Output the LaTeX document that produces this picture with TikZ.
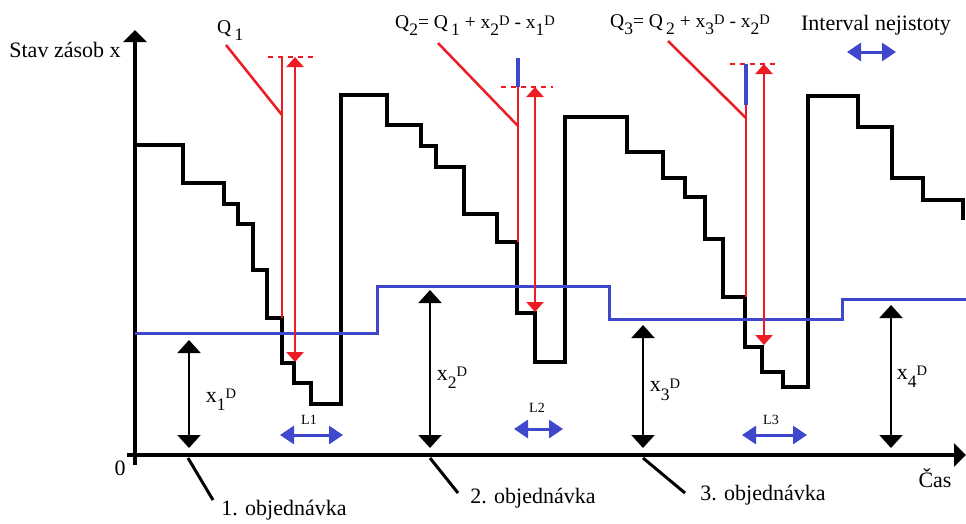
\documentclass[tikz,border=0pt]{standalone}
\usepackage{fontspec}
\setmainfont{Liberation Serif}
\usetikzlibrary{arrows.meta}
\definecolor{qred}{RGB}{237,28,36}
\definecolor{lblue}{RGB}{63,72,204}
\newcommand{\lowsub}[1]{\raisebox{-0.4em}{\fontsize{17.5}{20}\selectfont #1}}
\newcommand{\highsup}[1]{\raisebox{0.15em}{\fontsize{14.5}{17}\selectfont #1}}
\begin{document}
\begin{tikzpicture}[x=1pt, y=-1pt,
  stock/.style={line width=3.5pt, line join=miter},
  reorder/.style={line width=3pt, lblue},
  axis/.style={line width=4pt, -{Triangle[width=23pt,length=12pt]}},
  xdarrow/.style={line width=2pt, {Triangle[width=23pt,length=13pt]}-{Triangle[width=23pt,length=13pt]}},
  ldarrow/.style={line width=3pt, lblue, {Triangle[width=18pt,length=14pt]}-{Triangle[width=18pt,length=14pt]}},
  qdarrow/.style={line width=2.5pt, qred, {Triangle[width=17pt,length=10pt]}-{Triangle[width=17pt,length=10pt]}},
  qline/.style={line width=2.5pt, qred},
  qdash/.style={line width=2.5pt, qred, dash pattern=on 5pt off 5pt},
  bluetop/.style={line width=3.5pt, lblue},
  leader/.style={line width=3pt},
  txt/.style={inner sep=0pt, font=\fontsize{22}{26}\selectfont},
  qtxt/.style={inner sep=0pt, anchor=base west, font=\fontsize{19.5}{24}\selectfont},
  ltxt/.style={inner sep=0pt, font=\fontsize{14}{17}\selectfont}]
\useasboundingbox (0,0) rectangle (966,523);
% axes
\coordinate (origin) at (135,455);
\coordinate (ytop) at (135,30);
\coordinate (ybot) at (135,465);
\coordinate (xleft) at (127,455);
\coordinate (xright) at (966,455);
\draw[axis] (ybot) -- (ytop);
\draw[axis] (xleft) -- (xright);
\node[txt] (ylabel) at (65,50) {Stav zásob x};
\node[txt] (zero) at (120,468) {0};
\node[txt] (xlabel) at (935,478) {Čas};
% stock level
\draw[stock] (135,145) -- (183,145) -- (183,183) -- (224,183) -- (224,204) -- (238,204)
  -- (238,224) -- (253,224) -- (253,270) -- (267,270) -- (267,318) -- (282,318)
  -- (282,363) -- (294,363) -- (294,383) -- (311,383) -- (311,404) -- (341,404)
  -- (341,95) -- (387,95) -- (387,125) -- (421,125) -- (421,146) -- (436,146)
  -- (436,167) -- (464,167) -- (464,214) -- (497,214) -- (497,242) -- (517,242)
  -- (517,313) -- (535,313) -- (535,362) -- (565,362) -- (565,117) -- (627,117)
  -- (627,152) -- (663,152) -- (663,178) -- (685,178) -- (685,197) -- (705,197)
  -- (705,239) -- (723,239) -- (723,297) -- (745,297) -- (745,347) -- (762,347)
  -- (762,372) -- (783,372) -- (783,387) -- (808,387) -- (808,96) -- (858,96)
  -- (858,127) -- (892,127) -- (892,178) -- (923,178) -- (923,200) -- (963,200)
  -- (963,220);
% reorder level
\draw[reorder] (135,333) -- (377,333) -- (377,286) -- (609,286) -- (609,319)
  -- (842,319) -- (842,299) -- (966,299);
% x^D arrows
\coordinate (xa1) at (189,340);  \coordinate (xb1) at (189,448);
\coordinate (xa2) at (430,290);  \coordinate (xb2) at (430,448);
\coordinate (xa3) at (643,325);  \coordinate (xb3) at (643,448);
\coordinate (xa4) at (891,305);  \coordinate (xb4) at (891,448);
\draw[xdarrow] (xa1) -- (xb1);
\draw[xdarrow] (xa2) -- (xb2);
\draw[xdarrow] (xa3) -- (xb3);
\draw[xdarrow] (xa4) -- (xb4);
\node[txt] (xd1) at (221,400) {x\lowsub{1}\highsup{D}};
\node[txt] (xd2) at (452,378) {x\lowsub{2}\highsup{D}};
\node[txt] (xd3) at (665,390) {x\lowsub{3}\highsup{D}};
\node[txt] (xd4) at (912,377) {x\lowsub{4}\highsup{D}};
% orders
\node[txt] (ord1) at (284,510) {1. objednávka};
\node[txt] (ord2) at (533,498) {2. objednávka};
\node[txt] (ord3) at (763,495) {3. objednávka};
\coordinate (o1) at (188,458);  \coordinate (e1) at (213,500);
\coordinate (o2) at (430,458);  \coordinate (e2) at (458,493);
\coordinate (o3) at (643,458);  \coordinate (e3) at (685,493);
\draw[leader] (o1) -- (e1);
\draw[leader] (o2) -- (e2);
\draw[leader] (o3) -- (e3);
% lead times
\coordinate (la1) at (280,435);  \coordinate (lb1) at (343,435);
\coordinate (la2) at (514,429);  \coordinate (lb2) at (563,429);
\coordinate (la3) at (742,435);  \coordinate (lb3) at (807,435);
\coordinate (ia) at (847,52);    \coordinate (ib) at (896,52);
\draw[ldarrow] (la1) -- (lb1);
\draw[ldarrow] (la2) -- (lb2);
\draw[ldarrow] (la3) -- (lb3);
\draw[ldarrow] (ia) -- (ib);
\node[ltxt] (L1) at (309,420) {L1};
\node[ltxt] (L2) at (537,408) {L2};
\node[ltxt] (L3) at (771,420) {L3};
\node[txt] (interval) at (876,25) {Interval nejistoty};
% order quantities
\node[qtxt] (q1) at (217,33) {Q\,\lowsub{1}};
\node[qtxt] (q2) at (395,28) {Q\lowsub{2}= Q\,\lowsub{1} + x\lowsub{2}\highsup{D} - x\lowsub{1}\highsup{D}};
\node[qtxt] (q3) at (610,27) {Q\lowsub{3}= Q\,\lowsub{2} + x\lowsub{3}\highsup{D} - x\lowsub{2}\highsup{D}};
\coordinate (qs1) at (226,45);  \coordinate (qe1) at (282,115);
\coordinate (qs2) at (438,43);  \coordinate (qe2) at (518,126);
\coordinate (qs3) at (668,41);  \coordinate (qe3) at (746,118);
\draw[qline] (qs1) -- (qe1);
\draw[qline] (qs2) -- (qe2);
\draw[qline] (qs3) -- (qe3);
% Q1
\draw[qdash] (268,57) -- (313,57);
\coordinate (v1top) at (282,57);  \coordinate (v1bot) at (282,318);
\draw[qline] (v1top) -- (v1bot);
\coordinate (a1top) at (295,57);  \coordinate (a1bot) at (295,362);
\draw[qdarrow] (a1top) -- (a1bot);
% Q2
\draw[qdash] (501,87) -- (553,87);
\coordinate (b2top) at (518,58);  \coordinate (v2top) at (518,87);  \coordinate (v2bot) at (518,242);
\draw[qline] (v2top) -- (v2bot);
\draw[bluetop] (b2top) -- (v2top);
\coordinate (a2top) at (535,87);  \coordinate (a2bot) at (535,312);
\draw[qdarrow] (a2top) -- (a2bot);
% Q3
\draw[qdash] (730,64) -- (778,64);
\coordinate (b3top) at (746,64);  \coordinate (v3top) at (746,105);  \coordinate (v3bot) at (746,297);
\draw[qline] (v3top) -- (v3bot);
\draw[bluetop] (b3top) -- (v3top);
\coordinate (a3top) at (764,64);  \coordinate (a3bot) at (764,345);
\draw[qdarrow] (a3top) -- (a3bot);
\end{tikzpicture}
\end{document}
